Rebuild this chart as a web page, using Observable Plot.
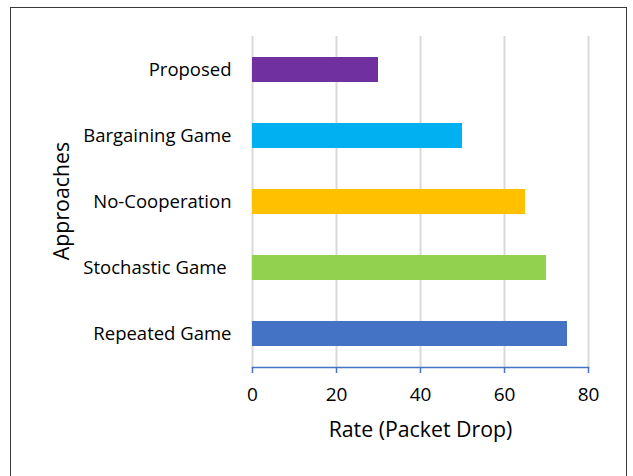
<!DOCTYPE html>
<html>
<head>
<meta charset="utf-8">
<script src="https://cdn.jsdelivr.net/npm/d3@7"></script>
<script src="https://cdn.jsdelivr.net/npm/@observablehq/plot@0.6"></script>
<style>
  html, body { margin: 0; padding: 0; background: #fff; }
  #wrap { position: relative; width: 633px; height: 476px; overflow: hidden; }
  #frame { position: absolute; left: 10px; top: 7px; width: 617px; height: 480px;
           border: 1.5px solid #3a3a3a; box-sizing: border-box; pointer-events: none; }
  #chart { position: absolute; left: 0; top: 0; }
</style>
</head>
<body>
<div id="wrap"><div id="chart"></div><div id="frame"></div></div>
<script>
// Packet drop rate per approach
const approaches = ["Proposed", "Bargaining Game", "No-Cooperation", "Stochastic Game\u00a0", "Repeated Game"];
const dropRate = [30, 50, 65, 70, 75];
const barColors = ["#7030A0", "#00B0F0", "#FFC000", "#92D050", "#4472C4"];
const xTicks = [0, 20, 40, 60, 80];

const rows = approaches.map((a, i) => ({approach: a, rate: dropRate[i], color: barColors[i]}));

const font = "'Open Sans', sans-serif";

const chart = Plot.plot({
  width: 633,
  height: 476,
  marginLeft: 252,
  marginRight: 45,
  marginTop: 36,
  marginBottom: 109,
  style: {fontFamily: font, fontSize: "18.5px", color: "#000", background: "transparent"},
  x: {domain: [0, 80], ticks: xTicks, label: null},
  y: {domain: approaches, paddingInner: 0.62, paddingOuter: 0.31, label: null},
  marks: [
    Plot.gridX(xTicks, {stroke: "#d9d9d9", strokeWidth: 2, strokeOpacity: 1}),
    Plot.barX(rows, {x: "rate", y: "approach", fill: "color"}),
    Plot.frame({anchor: "bottom", stroke: "#4472C4", strokeWidth: 1.5}),
    Plot.axisX(xTicks, {stroke: "#4472C4", strokeWidth: 1.5, strokeOpacity: 1, tickSize: 6,
      tickPadding: 14, fill: "#000", fontSize: 19, label: null}),
    Plot.axisY({tickSize: 0, tickPadding: 21, fill: "#000", fontSize: 18.5, label: null}),
    Plot.text(["Rate (Packet Drop)"], {frameAnchor: "bottom", dy: 69, fontSize: 21.3, fill: "#000"}),
    Plot.text(["Approaches"], {frameAnchor: "left", textAnchor: "middle", dx: -190, dy: -1,
      rotate: -90, fontSize: 21.3, fill: "#000"})
  ]
});

document.getElementById("chart").appendChild(chart);
</script>
</body>
</html>
